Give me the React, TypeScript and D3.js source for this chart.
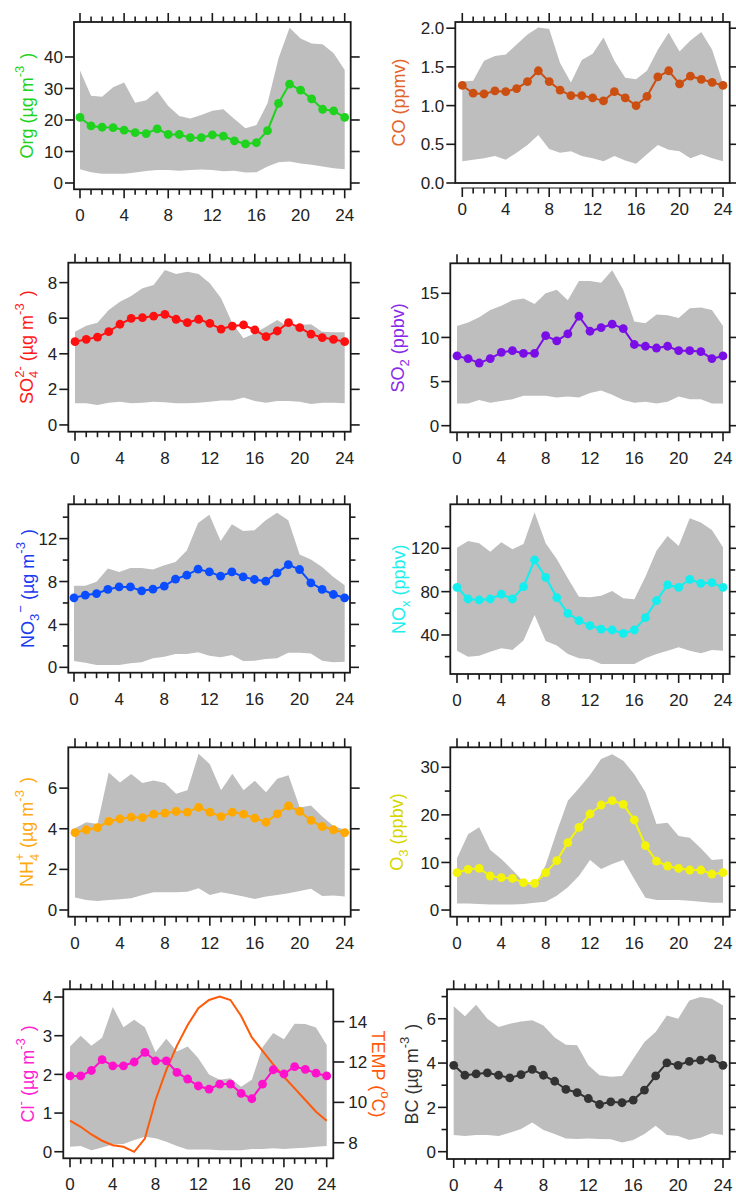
import React from "react";
import * as d3 from "d3";

// ---------- data ----------
const hours = [0, 1, 2, 3, 4, 5, 6, 7, 8, 9, 10, 11, 12, 13, 14, 15, 16, 17, 18, 19, 20, 21, 22, 23, 24];
const xTickLabels = [0, 4, 8, 12, 16, 20, 24];

const orgMean = [20.8, 18.1, 17.7, 17.6, 16.8, 16.0, 15.7, 17.2, 15.4, 15.4, 14.4, 14.4, 15.3, 14.9, 13.4, 12.4, 12.8, 16.6, 25.3, 31.4, 29.5, 26.7, 23.4, 22.9, 20.8];
const orgHigh = [35.7, 27.7, 27.4, 30.4, 31.9, 25.5, 26.3, 29.2, 24.4, 21.3, 20.5, 21.6, 22.9, 23.4, 20.3, 17.4, 18.4, 25.3, 39.6, 49.3, 45.9, 44.3, 44.0, 41.2, 35.9];
const orgLow = [4.4, 3.4, 2.9, 2.9, 2.9, 3.3, 3.8, 4.1, 4.1, 3.9, 4.1, 4.3, 4.1, 3.7, 3.9, 3.3, 3.4, 5.2, 6.6, 6.8, 6.2, 5.8, 5.2, 4.7, 4.4];

const coMean = [1.26, 1.16, 1.15, 1.19, 1.18, 1.22, 1.31, 1.45, 1.31, 1.20, 1.13, 1.13, 1.10, 1.06, 1.18, 1.10, 1.00, 1.12, 1.37, 1.45, 1.28, 1.38, 1.34, 1.30, 1.26];
const coHigh = [1.31, 1.32, 1.58, 1.64, 1.66, 1.79, 1.92, 2.01, 1.99, 1.55, 1.30, 1.59, 1.67, 1.88, 1.58, 1.36, 1.34, 1.45, 1.72, 1.94, 1.70, 1.84, 1.95, 1.72, 1.29];
const coLow = [0.28, 0.30, 0.32, 0.35, 0.30, 0.39, 0.49, 0.62, 0.44, 0.39, 0.41, 0.35, 0.32, 0.28, 0.35, 0.29, 0.25, 0.37, 0.49, 0.43, 0.41, 0.32, 0.37, 0.32, 0.28];

const so4Mean = [4.68, 4.81, 4.94, 5.24, 5.66, 5.99, 6.03, 6.12, 6.22, 5.94, 5.75, 5.94, 5.71, 5.39, 5.56, 5.62, 5.34, 4.96, 5.28, 5.75, 5.47, 5.11, 4.91, 4.81, 4.68];
const so4High = [5.24, 5.58, 5.75, 6.46, 6.93, 7.25, 7.68, 7.87, 8.71, 8.48, 8.61, 8.48, 7.96, 7.12, 5.71, 4.87, 5.15, 5.52, 5.90, 5.52, 5.62, 5.66, 5.24, 5.21, 5.21];
const so4Low = [1.22, 1.22, 1.12, 1.25, 1.31, 1.22, 1.25, 1.31, 1.27, 1.22, 1.22, 1.25, 1.31, 1.37, 1.37, 1.54, 1.35, 1.25, 1.35, 1.35, 1.31, 1.18, 1.25, 1.25, 1.22];

const so2Mean = [7.9, 7.6, 7.1, 7.6, 8.3, 8.5, 8.2, 8.2, 10.2, 9.6, 10.4, 12.4, 10.7, 11.1, 11.5, 11.0, 9.2, 9.0, 8.8, 9.0, 8.5, 8.5, 8.4, 7.6, 7.9];
const so2High = [11.3, 11.7, 12.3, 13.1, 13.6, 14.2, 14.4, 13.8, 15.0, 15.4, 14.2, 16.4, 16.4, 16.2, 17.6, 15.4, 11.8, 11.6, 12.6, 12.5, 12.2, 13.3, 13.4, 13.1, 11.3];
const so2Low = [2.5, 2.5, 2.9, 2.6, 2.8, 3.0, 3.4, 3.4, 3.4, 3.2, 3.3, 3.2, 3.7, 4.0, 3.5, 2.9, 2.6, 2.7, 2.5, 2.7, 3.3, 3.0, 3.0, 2.5, 2.5];

const no3Mean = [6.48, 6.73, 6.88, 7.26, 7.50, 7.50, 7.13, 7.29, 7.57, 8.22, 8.59, 9.15, 8.90, 8.50, 8.90, 8.43, 8.19, 8.03, 8.81, 9.58, 9.12, 7.88, 7.26, 6.79, 6.48];
const no3High = [7.6, 7.6, 7.97, 9.21, 8.90, 9.27, 9.27, 9.12, 9.52, 9.83, 10.9, 13.46, 14.23, 11.78, 13.33, 12.71, 12.78, 13.71, 14.42, 13.71, 10.51, 10.05, 9.36, 8.43, 7.66];
const no3Low = [0.59, 0.43, 0.22, 0.22, 0.22, 0.37, 0.47, 0.84, 0.99, 1.24, 1.24, 1.40, 1.09, 0.93, 1.15, 0.59, 0.62, 0.78, 0.84, 1.36, 1.36, 1.30, 0.62, 0.47, 0.53];

const noxMean = [84.0, 73.2, 72.3, 73.2, 77.8, 73.2, 84.6, 109.2, 93.2, 74.5, 60.0, 53.2, 48.6, 45.5, 44.6, 41.5, 44.6, 56.0, 71.7, 86.2, 84.0, 91.4, 87.7, 88.3, 84.0];
const noxHigh = [120.6, 126.8, 124.6, 116.9, 125.5, 119.1, 124.0, 153.2, 124.6, 110.2, 92.3, 75.4, 74.8, 76.3, 80.6, 73.8, 72.9, 93.8, 117.8, 131.4, 122.2, 147.7, 143.7, 136.9, 120.9];
const noxLow = [25.5, 20.0, 20.9, 24.6, 27.7, 26.2, 34.8, 58.5, 34.5, 30.2, 22.5, 18.5, 17.5, 13.2, 13.2, 13.2, 13.2, 18.5, 22.5, 25.5, 28.6, 25.5, 23.1, 26.2, 25.5];

const nh4Mean = [3.81, 3.95, 4.06, 4.36, 4.49, 4.57, 4.55, 4.72, 4.77, 4.85, 4.82, 5.05, 4.82, 4.60, 4.82, 4.72, 4.52, 4.32, 4.73, 5.13, 4.85, 4.41, 4.11, 3.95, 3.81];
const nh4High = [4.03, 4.32, 4.24, 6.77, 6.28, 6.69, 6.25, 6.38, 6.25, 5.72, 5.89, 7.69, 7.18, 5.89, 6.71, 5.89, 6.36, 5.80, 6.46, 6.63, 5.05, 5.15, 4.60, 4.14, 3.95];
const nh4Low = [0.62, 0.49, 0.44, 0.49, 0.53, 0.58, 0.74, 0.87, 0.87, 0.87, 0.90, 1.07, 0.74, 0.87, 0.77, 0.66, 0.54, 0.66, 0.74, 0.82, 0.94, 1.04, 0.69, 0.71, 0.66];

const o3Mean = [7.85, 8.55, 8.76, 7.15, 6.80, 6.66, 5.75, 5.61, 7.85, 10.37, 14.16, 17.38, 20.18, 22.07, 22.99, 22.21, 18.92, 13.52, 10.30, 9.25, 8.76, 8.41, 8.41, 7.57, 7.85];
const o3High = [10.86, 15.91, 17.38, 12.61, 10.72, 8.41, 5.96, 4.91, 9.46, 16.47, 22.99, 25.58, 28.38, 31.74, 32.73, 31.39, 28.52, 24.74, 18.08, 18.36, 15.56, 15.21, 12.96, 10.51, 10.72];
const o3Low = [1.40, 1.40, 1.26, 1.19, 1.19, 1.19, 1.26, 1.54, 1.75, 3.01, 4.77, 7.15, 10.51, 8.62, 9.67, 10.51, 6.45, 2.59, 2.10, 2.10, 2.10, 1.96, 1.75, 1.54, 1.54];

const clMean = [1.96, 1.96, 2.10, 2.38, 2.22, 2.22, 2.32, 2.57, 2.35, 2.35, 2.05, 1.88, 1.70, 1.62, 1.75, 1.75, 1.51, 1.37, 1.75, 2.12, 2.01, 2.20, 2.13, 2.03, 1.96];
const clHigh = [2.72, 3.00, 2.74, 2.95, 3.74, 3.22, 3.41, 3.22, 2.57, 2.92, 2.59, 2.72, 2.42, 2.00, 1.86, 1.90, 1.68, 1.86, 2.70, 3.07, 2.91, 3.31, 3.30, 3.21, 2.76];
const clLow = [0.13, 0.15, 0.04, 0.11, 0.19, 0.20, 0.30, 0.39, 0.35, 0.26, 0.15, 0.06, 0.06, 0.06, 0.04, 0.04, 0.04, 0.07, 0.07, 0.09, 0.07, 0.09, 0.10, 0.13, 0.15];
const tempValues = [9.09, 8.79, 8.41, 8.10, 7.88, 7.80, 7.55, 8.21, 10.12, 11.60, 12.81, 13.83, 14.66, 15.07, 15.24, 15.07, 14.28, 13.22, 12.55, 11.88, 11.27, 10.69, 10.12, 9.54, 9.09];

const bcMean = [3.90, 3.45, 3.51, 3.56, 3.45, 3.33, 3.48, 3.72, 3.45, 3.18, 2.81, 2.67, 2.40, 2.13, 2.25, 2.21, 2.33, 2.78, 3.42, 4.01, 3.90, 4.08, 4.13, 4.20, 3.90];
const bcHigh = [6.56, 6.11, 6.63, 6.00, 5.63, 5.78, 5.88, 5.93, 5.70, 5.15, 4.83, 4.80, 3.90, 3.45, 3.38, 3.42, 4.20, 4.95, 5.40, 6.15, 6.00, 6.83, 6.98, 6.90, 6.60];
const bcLow = [0.75, 0.71, 0.75, 0.75, 0.71, 0.86, 1.02, 1.32, 0.98, 0.80, 0.60, 0.57, 0.60, 0.57, 0.56, 0.41, 0.53, 0.80, 1.17, 0.75, 0.71, 0.53, 0.63, 0.83, 0.75];

const tempTicks = [8, 10, 12, 14];

// ---------- styles ----------
const FONT = "'Liberation Sans', Arial, sans-serif";
const BAND = "#bebebe";
const AXIS = "#1a1a1a";
const TICK_FS = 17;
const LABEL_FS = 18;

type Seg = { t: string; s?: "sub" | "sup"; dx?: number };

interface PanelCfg {
  id: string;
  mean: number[];
  high: number[];
  low: number[];
  color: string;
  labelColor: string;
  label: Seg[];
  labelX: number;
  // layout
  left: number; right: number; top: number; bottom: number;
  x0: number; x24: number;
  yMin: number; yMax: number;
  yTicks: number[];
  yMinor: number[];
  fmt: (v: number) => string;
  xAxisGap?: number;
  mirror?: boolean;
}

const unit: Seg[] = [{ t: " (\u00b5g m" }, { t: "-3", s: "sup" }, { t: " )", dx: 2 }];

const panels: PanelCfg[] = [
  {
    id: "org", mean: orgMean, high: orgHigh, low: orgLow, color: "#1ed21e", labelColor: "#1ed21e",
    label: [{ t: "Org" }, ...unit], labelX: 33,
    left: 74, right: 350.7, top: 22, bottom: 189.3, x0: 80, x24: 344.7,
    yMin: -2.0, yMax: 51.1, yTicks: [0, 10, 20, 30, 40], yMinor: [], fmt: d3.format("d"), mirror: true,
  },
  {
    id: "co", mean: coMean, high: coHigh, low: coLow, color: "#cc4f12", labelColor: "#e2642a",
    label: [{ t: "CO (ppmv)" }], labelX: 405,
    left: 455.3, right: 729.7, top: 22, bottom: 183, x0: 462.3, x24: 723,
    yMin: 0, yMax: 2.08, yTicks: [0, 0.5, 1.0, 1.5, 2.0], yMinor: [], fmt: d3.format(".1f"), xAxisGap: 5, mirror: true,
  },
  {
    id: "so4", mean: so4Mean, high: so4High, low: so4Low, color: "#ff1010", labelColor: "#ff1a1a",
    label: [{ t: "SO" }, { t: "4", s: "sub" }, { t: "2-", s: "sup", dx: -7 }, ...unit], labelX: 33,
    left: 68.3, right: 350.7, top: 262.7, bottom: 431.7, x0: 75, x24: 344.7,
    yMin: -0.38, yMax: 9.12, yTicks: [0, 2, 4, 6, 8], yMinor: [], fmt: d3.format("d"), mirror: true,
  },
  {
    id: "so2", mean: so2Mean, high: so2High, low: so2Low, color: "#7a0ee6", labelColor: "#8a2be8",
    label: [{ t: "SO" }, { t: "2", s: "sub" }, { t: " (ppbv)" }], labelX: 404,
    left: 450.3, right: 729.7, top: 263.3, bottom: 432.3, x0: 457, x24: 723,
    yMin: -0.75, yMax: 18.4, yTicks: [0, 5, 10, 15], yMinor: [], fmt: d3.format("d"), mirror: true,
  },
  {
    id: "no3", mean: no3Mean, high: no3High, low: no3Low, color: "#0a4cff", labelColor: "#1a3cf0",
    label: [{ t: "NO" }, { t: "3", s: "sub" }, { t: "\u2212", s: "sup", dx: 1 }, ...unit], labelX: 33.5,
    left: 68.3, right: 350, top: 504.3, bottom: 672.7, x0: 74, x24: 344.7,
    yMin: -0.5, yMax: 15.2, yTicks: [0, 4, 8, 12], yMinor: [2, 6, 10, 14], fmt: d3.format("d"), mirror: true,
  },
  {
    id: "nox", mean: noxMean, high: noxHigh, low: noxLow, color: "#14eeee", labelColor: "#22eeee",
    label: [{ t: "NO" }, { t: "x", s: "sub" }, { t: " (ppbv)" }], labelX: 404.5,
    left: 450.3, right: 729.7, top: 504.3, bottom: 674, x0: 457, x24: 723,
    yMin: 4.0, yMax: 160.6, yTicks: [40, 80, 120], yMinor: [20, 60, 100, 140], fmt: d3.format("d"), mirror: true,
  },
  {
    id: "nh4", mean: nh4Mean, high: nh4High, low: nh4Low, color: "#ffa800", labelColor: "#ffaa10",
    label: [{ t: "NH" }, { t: "4", s: "sub" }, { t: "+", s: "sup", dx: -7 }, ...unit], labelX: 33.3,
    left: 68.3, right: 350.7, top: 747.3, bottom: 916.7, x0: 75, x24: 344.7,
    yMin: -0.33, yMax: 8.01, yTicks: [0, 2, 4, 6], yMinor: [], fmt: d3.format("d"), mirror: true,
  },
  {
    id: "o3", mean: o3Mean, high: o3High, low: o3Low, color: "#f4f40a", labelColor: "#d6d600",
    label: [{ t: "O" }, { t: "3", s: "sub" }, { t: " (ppbv)" }], labelX: 403,
    left: 450.3, right: 729.7, top: 747.3, bottom: 916.7, x0: 457, x24: 723,
    yMin: -1.4, yMax: 34.2, yTicks: [0, 10, 20, 30], yMinor: [5, 15, 25], fmt: d3.format("d"), mirror: true,
  },
  {
    id: "cl", mean: clMean, high: clHigh, low: clLow, color: "#ff10cc", labelColor: "#ff22d0",
    label: [{ t: "Cl" }, { t: "-", s: "sup" }, ...unit], labelX: 33.5,
    left: 63.3, right: 333.3, top: 989.3, bottom: 1158.3, x0: 70, x24: 326.7,
    yMin: -0.17, yMax: 4.2, yTicks: [0, 1, 2, 3, 4], yMinor: [], fmt: d3.format("d"), mirror: false,
  },
  {
    id: "bc", mean: bcMean, high: bcHigh, low: bcLow, color: "#333333", labelColor: "#333333",
    label: [{ t: "BC" }, ...unit], labelX: 418,
    left: 447, right: 729.7, top: 989.3, bottom: 1159, x0: 453.7, x24: 723,
    yMin: -0.33, yMax: 7.33, yTicks: [0, 2, 4, 6], yMinor: [1, 3, 5, 7], fmt: d3.format("d"), mirror: true,
  },
];

const tempAxis = { yMin: 7.23, yMax: 15.6, color: "#ff5a0a", labelX: 371.5, labelY: 1074 };

function RichLabel({ segs, x, y, rotate, color, size }: { segs: Seg[]; x: number; y: number; rotate: number; color: string; size: number }) {
  let cur = 0;
  const small = Math.round(size * 0.72);
  return (
    <text transform={`translate(${x},${y}) rotate(${rotate})`} textAnchor="middle" fill={color} fontSize={size} fontFamily={FONT} style={{ whiteSpace: "pre" }}>
      {segs.map((sg, i) => {
        const target = sg.s === "sub" ? size * 0.3 : sg.s === "sup" ? -size * 0.5 : 0;
        const dy = target - cur;
        cur = target;
        return (
          <tspan key={i} dy={dy} dx={sg.dx ?? 0} fontSize={sg.s ? small : size}>
            {sg.t}
          </tspan>
        );
      })}
    </text>
  );
}

function Panel({ cfg }: { cfg: PanelCfg }) {
  const x = d3.scaleLinear().domain([0, 24]).range([cfg.x0, cfg.x24]);
  const y = d3.scaleLinear().domain([cfg.yMin, cfg.yMax]).range([cfg.bottom, cfg.top]);
  const area = d3
    .area<number>()
    .x((_, i) => x(hours[i]))
    .y0((_, i) => y(cfg.low[i]))
    .y1((_, i) => y(cfg.high[i]));
  const line = d3
    .line<number>()
    .x((_, i) => x(hours[i]))
    .y((d) => y(d));
  const clipId = `clip-${cfg.id}`;
  const axisY = cfg.bottom + (cfg.xAxisGap ?? 0);
  const MAJ = 9;
  const MIN = 5.5;
  const labelCenterY = (cfg.top + cfg.bottom) / 2;

  let tempEls: React.ReactNode = null;
  if (cfg.id === "cl") {
    const yt = d3.scaleLinear().domain([tempAxis.yMin, tempAxis.yMax]).range([cfg.bottom, cfg.top]);
    const tline = d3
      .line<number>()
      .x((_, i) => x(hours[i]))
      .y((d) => yt(d));
    tempEls = (
      <g>
        <path d={tline(tempValues) ?? ""} fill="none" stroke={tempAxis.color} strokeWidth={2} clipPath={`url(#${clipId})`} />
        {tempTicks.map((t) => (
          <g key={t}>
            <line x1={cfg.right} x2={cfg.right + 11} y1={yt(t)} y2={yt(t)} stroke={AXIS} strokeWidth={1.6} />
            <text x={cfg.right + 15} y={yt(t)} dy="0.36em" fontSize={TICK_FS} fontFamily={FONT} fill="#222">
              {t}
            </text>
          </g>
        ))}
        <RichLabel
          segs={[{ t: "TEMP (" }, { t: "o", s: "sup" }, { t: "C)" }]}
          x={tempAxis.labelX}
          y={tempAxis.labelY}
          rotate={90}
          color={tempAxis.color}
          size={LABEL_FS}
        />
      </g>
    );
  }

  return (
    <g>
      <defs>
        <clipPath id={clipId}>
          <rect x={cfg.left} y={cfg.top} width={cfg.right - cfg.left} height={cfg.bottom - cfg.top} />
        </clipPath>
      </defs>
      <path d={area(cfg.mean) ?? ""} fill={BAND} stroke="none" clipPath={`url(#${clipId})`} />
      {tempEls}
      <path d={line(cfg.mean) ?? ""} fill="none" stroke={cfg.color} strokeWidth={2} />
      {cfg.mean.map((v, i) => (
        <circle key={i} cx={x(hours[i])} cy={y(v)} r={4.4} fill={cfg.color} />
      ))}
      <rect x={cfg.left} y={cfg.top} width={cfg.right - cfg.left} height={cfg.bottom - cfg.top} fill="none" stroke={AXIS} strokeWidth={1.8} />
      {hours.map((h) => {
        const major = h % 4 === 0;
        const len = major ? MAJ : MIN;
        return (
          <g key={h}>
            <line x1={x(h)} x2={x(h)} y1={axisY} y2={axisY + len} stroke={AXIS} strokeWidth={1.6} />
            <line x1={x(h)} x2={x(h)} y1={cfg.top} y2={cfg.top - len} stroke={AXIS} strokeWidth={1.6} />
          </g>
        );
      })}
      {cfg.xAxisGap ? (
        <line x1={cfg.x0 - 1} x2={cfg.x24 + 1} y1={axisY} y2={axisY} stroke={AXIS} strokeWidth={1.2} />
      ) : null}
      {xTickLabels.map((h) => (
        <text key={h} x={x(h)} y={cfg.bottom + 32} textAnchor="middle" fontSize={TICK_FS} fontFamily={FONT} fill="#222">
          {h}
        </text>
      ))}
      {cfg.yTicks.map((t) => (
        <g key={t}>
          <line x1={cfg.left} x2={cfg.left - MAJ} y1={y(t)} y2={y(t)} stroke={AXIS} strokeWidth={1.6} />
          {cfg.mirror ? <line x1={cfg.right} x2={cfg.right + MAJ} y1={y(t)} y2={y(t)} stroke={AXIS} strokeWidth={1.6} /> : null}
          <text x={cfg.left - MAJ - 2} y={y(t)} dy="0.36em" textAnchor="end" fontSize={TICK_FS} fontFamily={FONT} fill="#222">
            {cfg.fmt(t)}
          </text>
        </g>
      ))}
      {cfg.yMinor.map((t) => (
        <g key={`m${t}`}>
          <line x1={cfg.left} x2={cfg.left - MIN} y1={y(t)} y2={y(t)} stroke={AXIS} strokeWidth={1.6} />
          {cfg.mirror ? <line x1={cfg.right} x2={cfg.right + MIN} y1={y(t)} y2={y(t)} stroke={AXIS} strokeWidth={1.6} /> : null}
        </g>
      ))}
      <RichLabel segs={cfg.label} x={cfg.labelX} y={labelCenterY} rotate={-90} color={cfg.labelColor} size={LABEL_FS} />
    </g>
  );
}

export default function App() {
  return (
    <svg
      width={736}
      height={1194}
      viewBox="0 0 736 1194"
      style={{ position: "absolute", left: 0, top: 0, background: "#ffffff" }}
    >
      <rect x={0} y={0} width={736} height={1194} fill="#ffffff" />
      {panels.map((p) => (
        <Panel key={p.id} cfg={p} />
      ))}
    </svg>
  );
}
